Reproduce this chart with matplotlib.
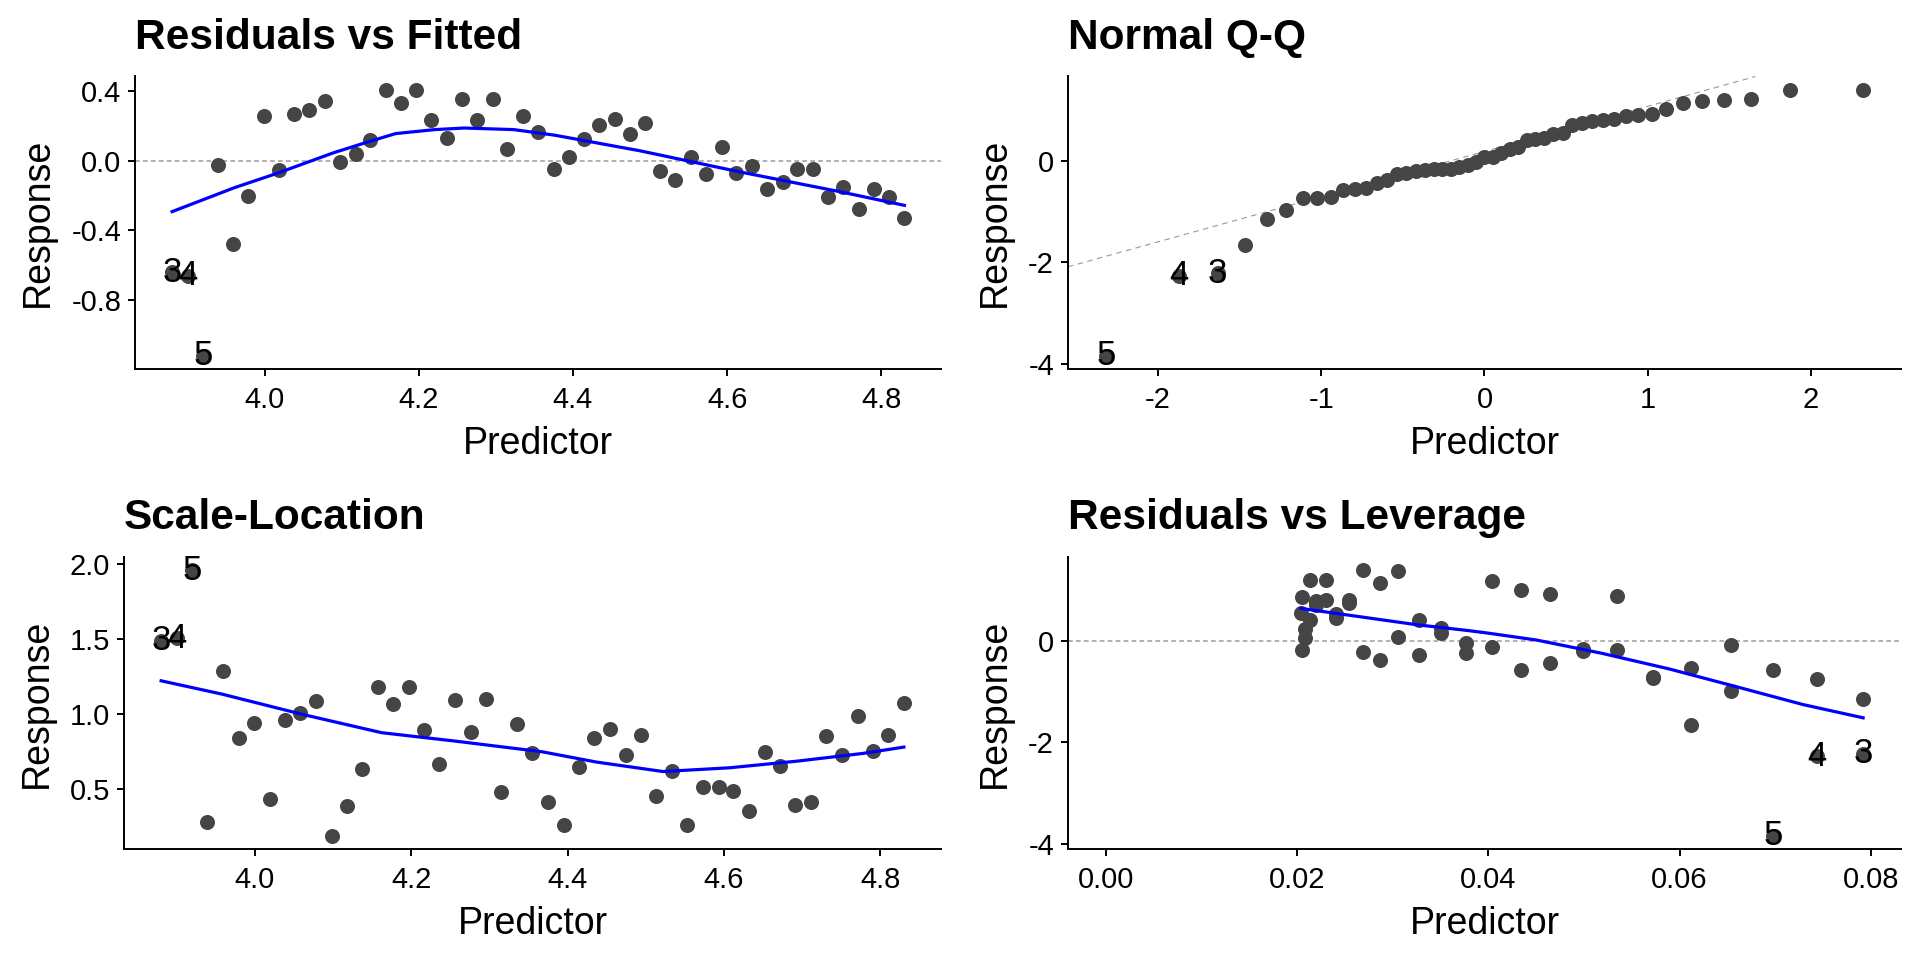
import numpy as np
import matplotlib
matplotlib.use("Agg")
import matplotlib.pyplot as plt

plt.rcParams['font.family'] = ['Liberation Sans', 'DejaVu Sans']
plt.rcParams['axes.unicode_minus'] = False

# fitted values (x of panels 1 and 3)
fitted = [3.880, 3.900, 3.920, 3.939, 3.959, 3.979, 3.999, 4.019, 4.038, 4.058,
          4.078, 4.098, 4.118, 4.137, 4.157, 4.177, 4.197, 4.216, 4.236, 4.256,
          4.276, 4.296, 4.315, 4.335, 4.355, 4.375, 4.395, 4.415, 4.434, 4.454,
          4.474, 4.494, 4.513, 4.533, 4.553, 4.573, 4.593, 4.612, 4.632, 4.652,
          4.672, 4.691, 4.711, 4.731, 4.751, 4.771, 4.790, 4.810, 4.830]

resid = [-0.644, -0.663, -1.123, -0.023, -0.479, -0.204, 0.258, -0.055, 0.266, 0.292,
         0.342, -0.011, 0.040, 0.120, 0.407, 0.331, 0.407, 0.235, 0.130, 0.354,
         0.231, 0.354, 0.069, 0.258, 0.163, -0.051, 0.019, 0.122, 0.206, 0.239,
         0.153, 0.216, -0.063, -0.112, 0.021, -0.078, 0.077, -0.070, -0.034, -0.164,
         -0.126, -0.046, -0.049, -0.210, -0.151, -0.281, -0.164, -0.212, -0.328]

sqrt_std_resid = [1.491, 1.507, 1.960, 0.279, 1.288, 0.844, 0.944, 0.437, 0.960, 1.007,
                  1.085, 0.190, 0.390, 0.638, 1.179, 1.065, 1.181, 0.897, 0.667, 1.096,
                  0.884, 1.100, 0.480, 0.935, 0.739, 0.413, 0.261, 0.650, 0.839, 0.904,
                  0.728, 0.864, 0.457, 0.620, 0.263, 0.518, 0.513, 0.486, 0.355, 0.750,
                  0.658, 0.397, 0.413, 0.855, 0.730, 0.989, 0.754, 0.864, 1.072]

std_resid = [-2.223, -2.271, -3.842, -0.078, -1.659, -0.712, 0.891, -0.191, 0.922, 1.014,
             1.177, -0.036, 0.152, 0.407, 1.390, 1.134, 1.395, 0.805, 0.445, 1.201,
             0.781, 1.210, 0.230, 0.874, 0.546, -0.171, 0.068, 0.423, 0.704, 0.817,
             0.530, 0.746, -0.209, -0.384, 0.069, -0.268, 0.263, -0.236, -0.126, -0.563,
             -0.433, -0.158, -0.171, -0.731, -0.533, -0.978, -0.569, -0.746, -1.149]

leverage = [0.0792, 0.0744, 0.0698, 0.0654, 0.0612, 0.0572, 0.0535, 0.0499, 0.0465, 0.0434,
            0.0404, 0.0377, 0.0351, 0.0328, 0.0306, 0.0287, 0.0269, 0.0254, 0.0241, 0.0230,
            0.0220, 0.0213, 0.0208, 0.0205, 0.0204, 0.0205, 0.0208, 0.0213, 0.0220, 0.0230,
            0.0241, 0.0254, 0.0269, 0.0287, 0.0306, 0.0328, 0.0351, 0.0377, 0.0404, 0.0434,
            0.0465, 0.0499, 0.0535, 0.0572, 0.0612, 0.0654, 0.0698, 0.0744, 0.0792]

qq_theoretical = [-2.319, -1.871, -1.635, -1.465, -1.330, -1.215, -1.114, -1.023, -0.941, -0.864,
                  -0.792, -0.724, -0.659, -0.596, -0.536, -0.478, -0.421, -0.366, -0.311, -0.258,
                  -0.206, -0.154, -0.102, -0.051, 0.000, 0.051, 0.102, 0.154, 0.206, 0.258,
                  0.311, 0.366, 0.421, 0.478, 0.536, 0.596, 0.659, 0.724, 0.792, 0.864,
                  0.941, 1.023, 1.114, 1.215, 1.330, 1.465, 1.635, 1.871, 2.319]
qq_sample = sorted(std_resid)
qq_intercept = 0.18
qq_slope = 0.89

# labelled observations: index into the arrays -> label
labels = {0: "3", 1: "4", 2: "5"}

# loess curves as drawn
smooth_fit_x = [3.880, 3.961, 4.016, 4.089, 4.134, 4.170, 4.221, 4.259, 4.323, 4.376, 4.487, 4.616, 4.746, 4.830]
smooth_fit_y = [-0.294, -0.156, -0.074, 0.044, 0.107, 0.155, 0.178, 0.187, 0.178, 0.146, 0.056, -0.065, -0.179, -0.258]
smooth_sl_x = [3.880, 3.958, 4.060, 4.162, 4.256, 4.367, 4.437, 4.522, 4.607, 4.693, 4.778, 4.830]
smooth_sl_y = [1.223, 1.134, 1.000, 0.877, 0.821, 0.750, 0.681, 0.618, 0.643, 0.687, 0.739, 0.781]
smooth_lev_x = [0.0204, 0.0325, 0.0380, 0.0399, 0.0450, 0.0519, 0.0589, 0.0659, 0.0729, 0.0792]
smooth_lev_y = [0.642, 0.321, 0.203, 0.157, 0.020, -0.244, -0.551, -0.900, -1.254, -1.516]

PT_COL = '#454545'
PT_SIZE = 117


def expand(vals, mult=0.05):
    lo, hi = min(vals), max(vals)
    d = (hi - lo) * mult
    return lo - d, hi + d


def style(ax, title, xticks, yticks, xfmt, yfmt):
    for s in ['top', 'right']:
        ax.spines[s].set_visible(False)
    for s in ['left', 'bottom']:
        ax.spines[s].set_linewidth(1.4)
    ax.tick_params(width=1.4, length=5, labelsize=21, colors='black')
    ax.tick_params(axis='x', pad=7)
    ax.tick_params(axis='y', pad=5)
    ax.set_xticks(xticks)
    ax.set_yticks(yticks)
    ax.set_xticklabels([xfmt.format(v) for v in xticks])
    ax.set_yticklabels([yfmt.format(v) for v in yticks])
    ax.set_xlabel("Predictor", fontsize=27, labelpad=9)
    ax.set_ylabel("Response", fontsize=27, labelpad=11)
    ax.set_title(title, loc='left', fontsize=30.5, fontweight='bold', pad=20)


def add_labels(ax, xs, ys, idx_map):
    for i, lab in idx_map.items():
        ax.text(xs[i], ys[i], lab, fontsize=25, ha='center', va='center', color='black', zorder=5)


fig = plt.figure(figsize=(19.2, 9.6), dpi=100)
ax1 = fig.add_axes([0.07057, 0.61563, 0.41953, 0.30469])
ax2 = fig.add_axes([0.55625, 0.61563, 0.43385, 0.30469])
ax3 = fig.add_axes([0.06458, 0.11563, 0.42552, 0.30417])
ax4 = fig.add_axes([0.55625, 0.11563, 0.43385, 0.30417])

# Residuals vs Fitted
ax1.axhline(0, color='#aaaaaa', lw=1.3, ls=(0, (2.6, 1.8)), zorder=1)
ax1.scatter(fitted, resid, s=PT_SIZE, color=PT_COL, linewidths=0, zorder=2)
ax1.plot(smooth_fit_x, smooth_fit_y, color='#0000ff', lw=2.3, zorder=3)
add_labels(ax1, fitted, resid, labels)
ax1.set_xlim(*expand(fitted))
ax1.set_ylim(*expand(resid))
style(ax1, "Residuals vs Fitted", [4.0, 4.2, 4.4, 4.6, 4.8], [-0.8, -0.4, 0.0, 0.4], "{:.1f}", "{:.1f}")

# Normal Q-Q
ax2.axline((0, qq_intercept), slope=qq_slope, color='#999999', lw=0.8, ls=(0, (5, 4)), zorder=1)
ax2.scatter(qq_theoretical, qq_sample, s=PT_SIZE, color=PT_COL, linewidths=0, zorder=2)
add_labels(ax2, qq_theoretical, qq_sample, {0: "5", 1: "4", 2: "3"})
ax2.set_xlim(*expand(qq_theoretical))
ax2.set_ylim(*expand(qq_sample))
style(ax2, "Normal Q-Q", [-2, -1, 0, 1, 2], [-4, -2, 0], "{:d}", "{:d}")

# Scale-Location
ax3.scatter(fitted, sqrt_std_resid, s=PT_SIZE, color=PT_COL, linewidths=0, zorder=2)
ax3.plot(smooth_sl_x, smooth_sl_y, color='#0000ff', lw=2.3, zorder=3)
add_labels(ax3, fitted, sqrt_std_resid, labels)
ax3.set_xlim(*expand(fitted))
ax3.set_ylim(*expand(sqrt_std_resid))
style(ax3, "Scale-Location", [4.0, 4.2, 4.4, 4.6, 4.8], [0.5, 1.0, 1.5, 2.0], "{:.1f}", "{:.1f}")

# Residuals vs Leverage
ax4.axhline(0, color='#aaaaaa', lw=1.3, ls=(0, (2.6, 1.8)), zorder=1)
ax4.scatter(leverage, std_resid, s=PT_SIZE, color=PT_COL, linewidths=0, zorder=2)
ax4.plot(smooth_lev_x, smooth_lev_y, color='#0000ff', lw=2.3, zorder=3)
add_labels(ax4, leverage, std_resid, labels)
ax4.set_xlim(*expand([0.0] + leverage))
ax4.set_ylim(*expand(std_resid))
style(ax4, "Residuals vs Leverage", [0.0, 0.02, 0.04, 0.06, 0.08], [-4, -2, 0], "{:.2f}", "{:d}")

fig.savefig("out.png", dpi=100)
